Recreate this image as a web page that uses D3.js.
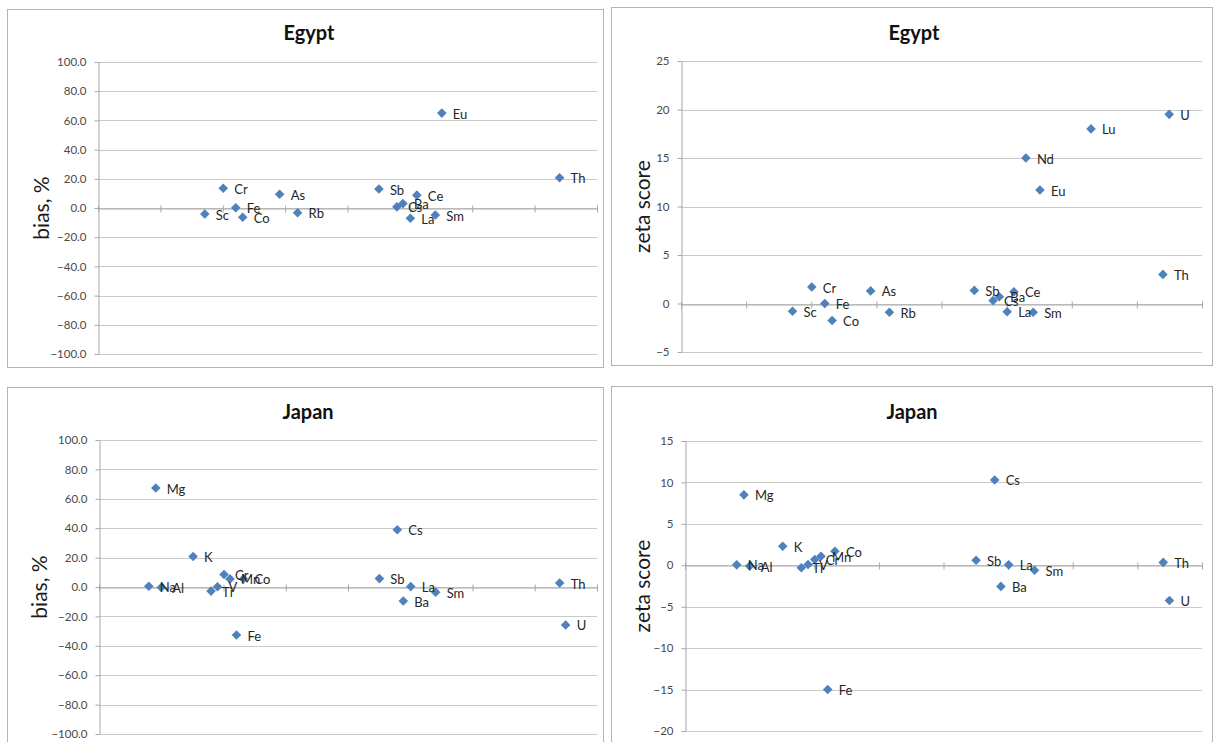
<!DOCTYPE html>
<html>
<head>
<meta charset="utf-8">
<script src="https://cdn.jsdelivr.net/npm/d3@7"></script>
<style>
  body { margin: 0; background: #fff; }
  text { font-family: Lato, "Open Sans", "DejaVu Sans", sans-serif; }
</style>
</head>
<body>
<svg id="chart" width="1213" height="742"></svg>
<script>
// ---- Data -----------------------------------------------------------------
// Horizontal position of each element on the shared (unlabelled) x axis, 0–100
const xValue = {
  Na: 10.0, Mg: 11.4, Al: 12.5, K: 18.9, Sc: 21.4, Ti: 22.5, V: 23.8,
  Cr: 25.1, Mn: 26.3, Fe: 27.6, Co: 29.0, As: 36.4, Rb: 40.0, Sb: 56.3,
  Cs: 59.9, Ba: 61.1, La: 62.6, Ce: 63.9, Nd: 66.2, Sm: 67.6, Eu: 68.9,
  Lu: 78.7, Th: 92.5, U: 93.7
};

// Egypt – bias, %
const egyptBiasElements = ["Sc", "Cr", "Fe", "Co", "As", "Rb", "Sb", "Cs", "Ba", "La", "Ce", "Sm", "Eu", "Th"];
const egyptBiasValues   = [-4.1, 13.5, 0.2, -6.3, 9.4, -3.2, 13.0, 0.8, 3.0, -7.0, 8.8, -4.8, 65.0, 20.7];

// Egypt – zeta score
const egyptZetaElements = ["Sc", "Cr", "Fe", "Co", "As", "Rb", "Sb", "Cs", "Ba", "La", "Ce", "Nd", "Sm", "Eu", "Lu", "Th", "U"];
const egyptZetaValues   = [-0.8, 1.7, 0.0, -1.75, 1.3, -0.9, 1.35, 0.3, 0.7, -0.85, 1.2, 15.0, -0.9, 11.7, 18.0, 3.0, 19.5];

// Japan – bias, %
const japanBiasElements = ["Na", "Mg", "Al", "K", "Ti", "V", "Cr", "Mn", "Fe", "Co", "Sb", "Cs", "Ba", "La", "Sm", "Th", "U"];
const japanBiasValues   = [0.5, 67.3, -0.3, 20.7, -2.8, 0.2, 8.5, 5.5, -32.7, 5.5, 5.7, 38.9, -9.5, 0.3, -3.5, 2.7, -25.8];

// Japan – zeta score
const japanZetaElements = ["Na", "Mg", "Al", "K", "Ti", "V", "Cr", "Mn", "Fe", "Co", "Sb", "Cs", "Ba", "La", "Sm", "Th", "U"];
const japanZetaValues   = [0.05, 8.5, -0.1, 2.3, -0.3, 0.1, 0.7, 1.1, -15.0, 1.7, 0.6, 10.3, -2.55, 0.05, -0.6, 0.35, -4.25];

// Axis ticks
const biasTicks = [-100, -80, -60, -40, -20, 0, 20, 40, 60, 80, 100];
const egyptZetaTicks = [-5, 0, 5, 10, 15, 20, 25];
const japanZetaTicks = [-20, -15, -10, -5, 0, 5, 10, 15];
const xTicks = [0, 12.5, 25, 37.5, 50, 62.5, 75, 87.5, 100];

// ---- Drawing --------------------------------------------------------------
const svg = d3.select("#chart");
const markerColor = "#4F81BD";
const gridColor = "#c9c9c9";
const axisColor = "#a8a8a8";

function drawPanel(p) {
  const g = svg.append("g");

  // chart frame
  g.append("rect")
    .attr("x", p.frame[0] + 0.5).attr("y", p.frame[1] + 0.5)
    .attr("width", p.frame[2]).attr("height", p.frame[3])
    .attr("fill", "#fff").attr("stroke", "#b4b4b4").attr("stroke-width", 1);

  const yTicks = p.ticks;
  const x = d3.scaleLinear().domain([0, 100]).range([p.left, p.right]);
  const y = d3.scaleLinear().domain([d3.min(yTicks), d3.max(yTicks)]).range([p.bottom, p.top]);

  // horizontal gridlines
  g.append("g").selectAll("line")
    .data(yTicks)
    .join("line")
    .attr("x1", p.left).attr("x2", p.right)
    .attr("y1", d => Math.round(y(d)) + 0.5).attr("y2", d => Math.round(y(d)) + 0.5)
    .attr("stroke", gridColor).attr("stroke-width", 1);

  // vertical axis
  const yAxis = g.append("g")
    .attr("transform", `translate(${Math.round(p.left) + 0.5},0)`)
    .call(d3.axisLeft(y).tickValues(yTicks).tickFormat(p.format).tickSizeInner(4).tickSizeOuter(0).tickPadding(8));
  yAxis.select(".domain").attr("stroke", axisColor);
  yAxis.selectAll(".tick line").attr("stroke", axisColor);
  yAxis.selectAll(".tick text")
    .attr("fill", "#4a4a4a")
    .style("font-size", "11.5px");

  // horizontal axis crossing at zero, tick marks only
  const xAxis = g.append("g")
    .attr("transform", `translate(0,${Math.round(y(0)) + 0.5})`)
    .call(d3.axisBottom(x).tickValues(xTicks).tickFormat("").tickSizeInner(4).tickSizeOuter(0));
  xAxis.select(".domain").attr("stroke", axisColor);
  xAxis.selectAll(".tick line").attr("stroke", axisColor).attr("y1", -3);

  // title
  g.append("text")
    .attr("x", p.titleX).attr("y", p.titleY)
    .attr("text-anchor", "middle")
    .attr("fill", "#111")
    .style("font-size", "20px").style("font-weight", "bold")
    .text(p.title);

  // vertical axis title
  g.append("text")
    .attr("transform", `translate(${p.axisTitleX},${(p.top + p.bottom) / 2}) rotate(-90)`)
    .attr("text-anchor", "middle")
    .attr("dy", "0.35em")
    .attr("fill", "#1a1a1a")
    .style("font-size", "21px")
    .text(p.axisTitle);

  const points = p.elements.map((el, i) => ({ el, x: xValue[el], v: p.values[i] }));

  // diamond markers
  const diamond = d3.symbol().type(d3.symbolSquare).size(46);
  g.append("g").selectAll("path")
    .data(points)
    .join("path")
    .attr("d", diamond)
    .attr("transform", d => `translate(${x(d.x)},${y(d.v)}) rotate(45)`)
    .attr("fill", markerColor);

  // element labels to the right of each marker
  g.append("g").selectAll("text")
    .data(points)
    .join("text")
    .attr("x", d => x(d.x) + 11)
    .attr("y", d => y(d.v) + 1)
    .attr("dy", "0.35em")
    .attr("fill", "#262626")
    .style("font-size", "13px")
    .text(d => d.el);
}

const fmtBias = d3.format(".1f");
const fmtInt = d3.format("d");

drawPanel({
  frame: [7, 9, 596, 358], left: 98, right: 597, top: 62, bottom: 354,
  ticks: biasTicks, format: fmtBias, title: "Egypt", titleX: 309, titleY: 40,
  axisTitle: "bias, %", axisTitleX: 42,
  elements: egyptBiasElements, values: egyptBiasValues
});

drawPanel({
  frame: [611, 7, 601, 358], left: 681, right: 1202, top: 61, bottom: 352,
  ticks: egyptZetaTicks, format: fmtInt, title: "Egypt", titleX: 914, titleY: 40,
  axisTitle: "zeta score", axisTitleX: 643,
  elements: egyptZetaElements, values: egyptZetaValues
});

drawPanel({
  frame: [7, 387, 596, 370], left: 99, right: 597, top: 440, bottom: 734,
  ticks: biasTicks, format: fmtBias, title: "Japan", titleX: 308, titleY: 419,
  axisTitle: "bias, %", axisTitleX: 40,
  elements: japanBiasElements, values: japanBiasValues
});

drawPanel({
  frame: [611, 386, 601, 370], left: 685, right: 1202, top: 441, bottom: 731,
  ticks: japanZetaTicks, format: fmtInt, title: "Japan", titleX: 912, titleY: 419,
  axisTitle: "zeta score", axisTitleX: 643,
  elements: japanZetaElements, values: japanZetaValues
});
</script>
</body>
</html>
